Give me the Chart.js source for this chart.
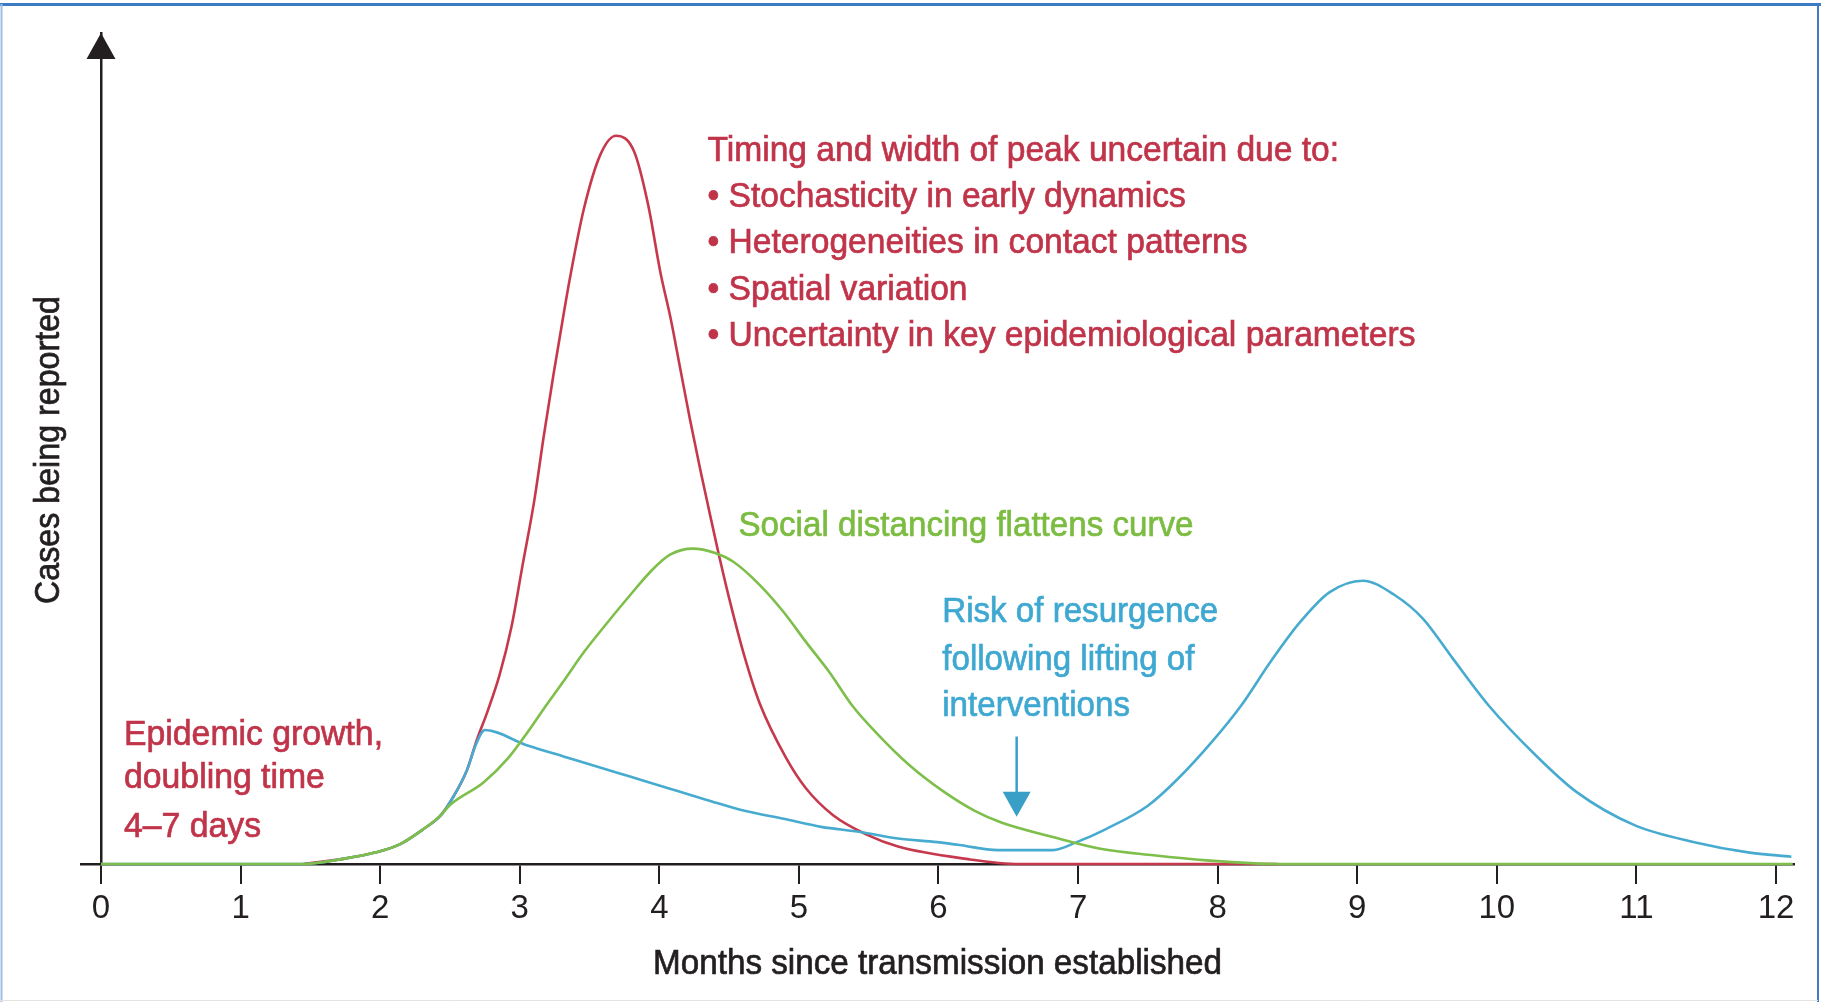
<!DOCTYPE html>
<html><head><meta charset="utf-8">
<script src="https://cdn.jsdelivr.net/npm/chart.js@4.4.1/dist/chart.umd.min.js"></script>
<style>html,body{margin:0;padding:0;background:#fff;}canvas{display:block;}</style>
</head><body>
<canvas id="c" width="1821" height="1002"></canvas>
<script>
// ---- data (months since transmission established, relative cases reported) ----
const tickMonths = [0,1,2,3,4,5,6,7,8,9,10,11,12];
const tickLabels = ['0','1','2','3','4','5','6','7','8','9','10','11','12'];

const redMonths = [1.45,1.735,1.97,2.14,2.31,2.43,2.52,2.62,2.69,2.77,2.856,2.94,3.02,3.105,3.17,3.24,3.31,3.36,3.46,3.58,3.69,3.82,3.92,4.01,4.08,4.15,4.22,4.295,4.34,4.42,4.50,4.61,4.72,4.91,5.05,5.245,5.49,5.71,6.20,6.58,8.43];
const redCases  = [0,0.7,1.6,2.7,4.8,6.6,9.1,12.8,16.9,21.0,26.0,32.5,41.0,50.0,58.5,67.0,75.0,80.5,90.0,97.5,100,97.8,90.5,81.0,75.0,68.0,61.0,54.0,50.0,43.0,36.5,28.5,22.0,14.5,10.4,6.7,4.0,2.4,0.7,0,0];

const greenMonths = [0,1.45,1.735,1.97,2.14,2.31,2.43,2.50,2.74,2.92,3.06,3.19,3.325,3.46,3.63,3.79,3.955,4.08,4.24,4.40,4.53,4.72,4.89,5.05,5.22,5.38,5.57,5.79,6.04,6.26,6.45,6.82,7.16,7.54,7.92,8.44,12.12];
const greenCases  = [0,0,0.7,1.6,2.7,4.8,6.6,8.1,11.2,14.6,18.2,21.8,25.4,29.1,33.2,36.9,40.5,42.5,43.3,42.7,41.5,38.3,34.6,30.5,26.3,21.8,17.7,13.6,9.9,7.3,5.7,3.7,2.1,1.2,0.5,0,0];

const blueMonths = [0,1.45,1.735,1.97,2.14,2.31,2.43,2.52,2.62,2.69,2.75,3.05,3.325,3.516,3.79,4.064,4.34,4.61,4.89,5.16,5.44,5.71,5.99,6.15,6.425,6.82,6.99,7.20,7.50,7.71,7.96,8.17,8.38,8.59,8.80,9.04,9.27,9.47,9.685,9.94,10.28,10.57,10.99,11.415,11.80,12.11];
const blueCases  = [0,0,0.7,1.6,2.7,4.8,6.6,9.1,12.8,16.6,18.4,16.3,14.7,13.6,12.0,10.4,8.8,7.3,6.2,5.1,4.4,3.5,3.0,2.6,1.9,1.9,3.0,4.8,8.0,11.6,16.8,21.8,27.8,33.2,37.3,38.9,36.9,33.7,28.2,21.8,14.9,9.9,5.3,3.0,1.6,1.0];

// ---- text ----
const xTitle = 'Months since transmission established';
const yTitle = 'Cases being reported';
const redNote = ['Timing and width of peak uncertain due to:','• Stochasticity in early dynamics','• Heterogeneities in contact patterns','• Spatial variation','• Uncertainty in key epidemiological parameters'];
const growthNote = ['Epidemic growth,','doubling time','4–7 days'];
const greenNote = ['Social distancing flattens curve'];
const blueNote = ['Risk of resurgence','following lifting of','interventions'];

const FONT = "'Liberation Sans', Arial, sans-serif";
const INK = '#231f20';
const RED = '#c6394d', RED_T = '#c0344a';
const GREEN = '#7dbf4a', GREEN_T = '#7bbc41';
const BLUE = '#47abd0', BLUE_T = '#3ea8d1', BLUE_A = '#3a9fc7';

const pairs = (xs, ys) => xs.map((x, i) => ({x, y: ys[i]}));

function drawBlock(ctx, lines, px, pys, color, size, targetW, align) {
  ctx.save();
  ctx.font = size + 'px ' + FONT;
  const widest = Math.max(...lines.map(l => ctx.measureText(l).width));
  const sx = targetW ? targetW / widest : 1;
  ctx.fillStyle = color; ctx.strokeStyle = color; ctx.lineWidth = 0.7;
  ctx.textBaseline = 'middle'; ctx.textAlign = align || 'left';
  lines.forEach((l, i) => {
    ctx.save(); ctx.translate(px, pys[i]); ctx.scale(sx, 1);
    ctx.fillText(l, 0, 0); ctx.strokeText(l, 0, 0); ctx.restore();
  });
  ctx.restore();
}

const decor = {
  id: 'decor',
  afterDraw(chart) {
    const ctx = chart.ctx, xs = chart.scales.x, ys = chart.scales.y;
    const X = v => xs.getPixelForValue(v), Y = v => ys.getPixelForValue(v);
    const ca = chart.chartArea;
    ctx.save();
    // frame
    ctx.strokeStyle = '#3d7cc4'; ctx.lineWidth = 3;
    ctx.beginPath(); ctx.moveTo(0, 4.5); ctx.lineTo(1821, 4.5); ctx.stroke();
    ctx.lineWidth = 2;
    ctx.beginPath(); ctx.moveTo(1818, 4); ctx.lineTo(1818, 1002); ctx.stroke();
    ctx.strokeStyle = '#9dbfe6'; ctx.lineWidth = 2;
    ctx.beginPath(); ctx.moveTo(1.5, 4); ctx.lineTo(1.5, 1002); ctx.stroke();
    ctx.strokeStyle = '#e3e3e3'; ctx.lineWidth = 1;
    ctx.beginPath(); ctx.moveTo(0, 1000.5); ctx.lineTo(1818, 1000.5); ctx.stroke();
    // y-axis arrow head
    const ax = X(0), top = ca.top;
    ctx.fillStyle = INK;
    ctx.beginPath(); ctx.moveTo(ax, top); ctx.lineTo(ax - 14.5, top + 26); ctx.lineTo(ax + 14.5, top + 26); ctx.closePath(); ctx.fill();
    // axis titles
    drawBlock(ctx, [xTitle], (ca.left + ca.right) / 2, [964], INK, 35, 569, 'center');
    ctx.save(); ctx.translate(49, 450); ctx.rotate(-Math.PI / 2);
    drawBlock(ctx, [yTitle], 0, [0], INK, 35, 308, 'center');
    ctx.restore();
    // notes
    drawBlock(ctx, redNote, X(4.345), [97.9, 91.6, 85.2, 78.8, 72.4].map(Y), RED_T, 35, 708);
    drawBlock(ctx, growthNote, X(0.165), [17.7, 11.7, 5.1].map(Y), RED_T, 35, 259);
    drawBlock(ctx, greenNote, X(4.567), [46.4].map(Y), GREEN_T, 35, 455);
    drawBlock(ctx, blueNote, X(6.027), [34.5, 28.0, 21.7].map(Y), BLUE_T, 35, 276);
    // resurgence arrow
    const bx = X(6.56), y0 = Y(17.5), y1 = Y(6.5);
    ctx.strokeStyle = BLUE_A; ctx.fillStyle = BLUE_A; ctx.lineWidth = 2.5;
    ctx.beginPath(); ctx.moveTo(bx, y0); ctx.lineTo(bx, y1 - 22); ctx.stroke();
    ctx.beginPath(); ctx.moveTo(bx - 14, y1 - 25); ctx.lineTo(bx + 14, y1 - 25); ctx.lineTo(bx, y1); ctx.closePath(); ctx.fill();
    ctx.restore();
  }
};

const lineDs = (label, xs, ys, color) => ({
  label, data: pairs(xs, ys), borderColor: color, borderWidth: 2.6,
  pointRadius: 0, fill: false, cubicInterpolationMode: 'monotone', clip: false
});

new Chart(document.getElementById('c'), {
  type: 'line',
  data: { datasets: [
    lineDs('Social distancing', greenMonths, greenCases, GREEN),
    lineDs('Resurgence', blueMonths, blueCases, BLUE),
    lineDs('Unmitigated', redMonths, redCases, RED)
  ]},
  options: {
    responsive: false, animation: false, devicePixelRatio: 1,
    layout: { padding: { left: 81, right: 27, top: 33, bottom: 0 } },
    plugins: { legend: { display: false }, tooltip: { enabled: false } },
    scales: {
      x: {
        type: 'linear', min: -0.1433, max: 12.129,
        afterBuildTicks: s => { s.ticks = tickMonths.map(v => ({ value: v })); },
        afterFit: s => { s.height = 138; },
        ticks: { callback: (v) => tickLabels[tickMonths.indexOf(v)], color: INK, font: { family: FONT, size: 33 }, padding: 5, maxRotation: 0, autoSkip: false },
        grid: { drawOnChartArea: false, drawTicks: true, tickLength: 20, color: INK, lineWidth: 2 },
        border: { display: true, color: INK, width: 2.5 },
        title: { display: false }
      },
      y: {
        type: 'linear', min: 0, max: 114.1, position: { x: 0 },
        ticks: { display: false },
        grid: { display: false },
        border: { display: true, color: INK, width: 2.5 }
      }
    }
  },
  plugins: [decor]
});
</script>
</body></html>
